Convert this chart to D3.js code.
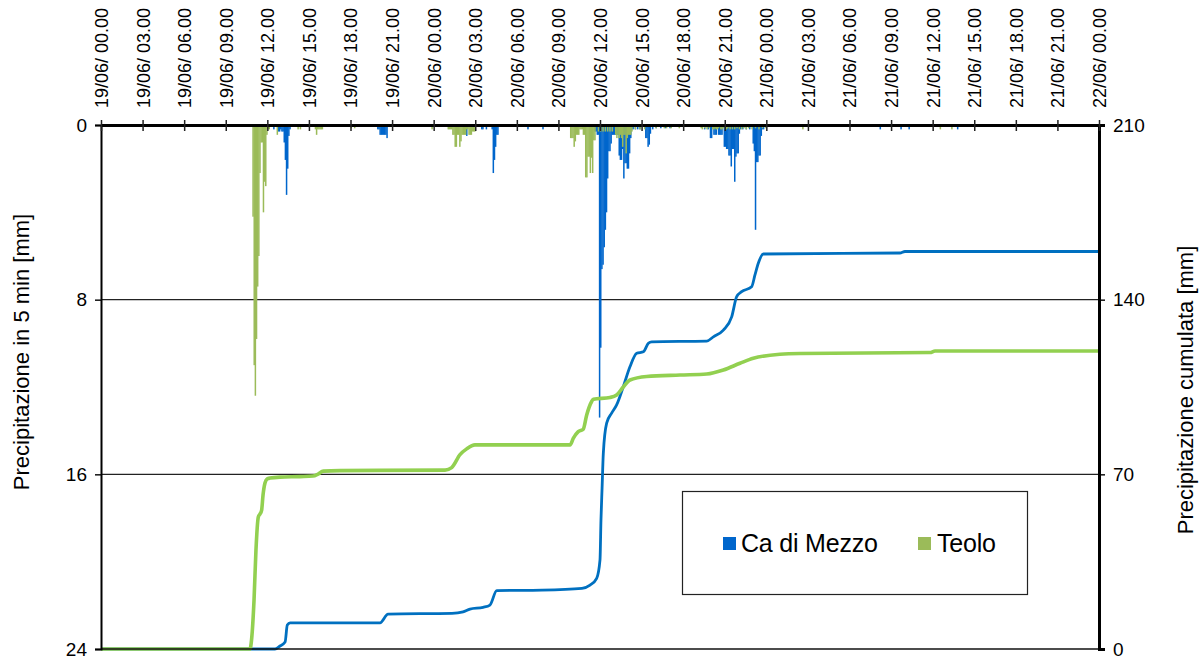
<!DOCTYPE html>
<html>
<head>
<meta charset="utf-8">
<script src="https://cdn.jsdelivr.net/npm/d3@7"></script>
<style>
  html, body { margin: 0; padding: 0; background: #fff; }
  svg { display: block; font-family: "Liberation Sans", Arial, sans-serif; }
</style>
</head>
<body>
<svg id="chart" width="1204" height="662"></svg>
<script>
// ---------- DATA ----------
// Top axis tick labels (every 3 hours from 19/06 00.00)
const tickLabels = [
  "19/06/ 00.00","19/06/ 03.00","19/06/ 06.00","19/06/ 09.00","19/06/ 12.00","19/06/ 15.00","19/06/ 18.00","19/06/ 21.00",
  "20/06/ 00.00","20/06/ 03.00","20/06/ 06.00","20/06/ 09.00","20/06/ 12.00","20/06/ 15.00","20/06/ 18.00","20/06/ 21.00",
  "21/06/ 00.00","21/06/ 03.00","21/06/ 06.00","21/06/ 09.00","21/06/ 12.00","21/06/ 15.00","21/06/ 18.00","21/06/ 21.00",
  "22/06/ 00.00"
];
const seriesNames = ["Ca di Mezzo", "Teolo"];
const leftTicks = [0, 8, 16, 24];
const rightTicks = [0, 70, 140, 210];

// 5-minute precipitation [minute from 19/06 00:00, mm]
const caDiMezzoRain = [
  [745,0.2],[765,0.3],[770,0.3],[775,0.2],[780,0.3],[785,0.3],[790,0.8],[795,1.6],[800,3.2],[805,2.0],[810,0.5],[815,0.2],
  [1195,0.2],[1200,0.2],[1205,0.45],[1210,0.45],[1215,0.45],[1220,0.45],[1225,0.45],[1230,0.45],[1235,0.6],
  [1580,0.5],[1645,0.2],[1650,0.2],[1665,0.2],[1690,0.2],[1695,2.2],[1700,1.6],[1705,1.0],[1710,0.45],[1715,0.45],
  [1845,0.2],[1910,0.2],
  [2135,0.3],[2140,0.3],[2145,0.45],[2150,0.45],[2155,13.4],[2160,10.2],[2165,6.6],[2170,6.4],[2175,5.6],[2180,4.8],[2185,4.0],[2190,2.45],[2195,1.2],[2200,1.2],[2205,0.85],[2210,0.45],[2215,0.45],
  [2220,0.45],[2225,0.45],[2230,0.45],[2235,0.45],[2240,1.4],[2245,1.6],[2250,1.6],[2255,1.1],[2260,2.45],[2265,1.75],[2270,1.75],[2275,2.0],[2280,2.0],[2285,1.3],[2290,0.6],[2295,0.2],[2300,0.2],[2310,0.2],[2320,0.2],[2330,0.2],
  [2355,0.6],[2360,0.6],[2365,1.0],[2370,0.9],[2375,0.4],[2385,0.2],[2400,0.15],[2420,0.15],[2440,0.15],[2460,0.15],
  [2610,0.2],[2625,0.2],[2635,0.6],[2640,0.6],[2650,0.45],[2655,0.45],[2660,0.45],[2670,0.45],[2675,0.45],[2680,0.45],[2685,0.45],[2695,1.0],[2700,1.0],[2705,1.1],[2710,1.1],[2715,1.4],[2720,1.4],[2725,1.9],[2730,1.1],[2735,1.1],[2740,2.6],[2745,1.45],[2750,1.3],[2755,1.3],[2760,0.4],[2765,0.2],[2775,0.2],[2790,0.2],[2805,0.2],
  [2820,0.85],[2825,1.2],[2830,4.8],[2835,1.7],[2840,1.7],[2845,1.4],[2850,1.4],[2855,0.5],[2860,0.2],[2865,0.2],
  [3370,0.2],[3460,0.2],[3495,0.2],[3705,0.2]
];
const teoloRain = [
  [655,4.2],[660,11.0],[665,12.4],[670,9.8],[675,7.4],[680,6.0],[685,2.2],[690,0.8],[695,0.8],[700,4.0],[705,2.6],[710,2.8],[715,0.45],[720,0.2],[725,0.2],
  [760,0.45],[850,0.2],[860,0.2],
  [925,0.2],[930,0.45],[935,0.2],[940,0.2],[945,0.2],[950,0.2],[955,0.2],
  [1080,0.15],[1095,0.15],[1430,0.2],
  [1500,0.2],[1505,0.2],[1510,0.2],[1515,0.2],[1520,0.45],[1525,0.45],[1530,1.0],[1535,1.0],[1540,0.45],[1545,0.45],[1550,1.0],[1555,0.75],[1560,0.45],[1565,0.45],[1570,0.45],[1575,0.45],[1580,0.2],[1585,0.2],[1590,0.45],[1595,0.45],[1600,0.45],[1605,0.3],[1610,0.3],[1615,0.3],
  [2030,0.6],[2035,0.6],[2040,0.6],[2045,1.0],[2050,0.75],[2055,0.45],[2060,0.45],[2065,0.45],[2070,0.2],[2075,0.2],[2080,0.2],[2085,0.45],[2090,0.45],[2095,2.4],[2100,2.4],[2105,1.45],[2110,1.45],[2115,2.2],[2120,1.5],[2125,2.2],[2130,0.7],[2135,0.7],
  [2150,0.3],[2160,0.3],[2170,0.3],[2180,0.3],[2190,0.3],[2200,0.3],[2210,0.3],
  [2225,0.45],[2230,0.6],[2235,0.45],[2240,0.6],[2245,0.45],[2250,0.6],[2255,1.0],[2260,0.45],[2265,0.45],[2270,1.3],[2275,0.6],[2280,0.45],[2285,0.45],[2290,0.45],[2295,0.3],
  [2310,0.2],[2330,0.2],[2350,0.2],[2400,0.15],[2435,0.15],[2445,0.15],[2465,0.15],[2500,0.15],
  [2595,0.15],[2600,0.2],[2610,0.15],[2620,0.2],[2630,0.15],[2645,0.2],[2650,0.2],[2655,0.15],[2660,0.2],[2665,0.2],[2670,0.15],[2680,0.2],[2685,0.2],[2690,0.15],[2700,0.2],[2705,0.2],[2710,0.15],[2720,0.2],[2730,0.2],[2740,0.2],[2750,0.15],[2760,0.2],[2770,0.2],[2780,0.15],[2790,0.2],[2800,0.15],[2815,0.2],[2830,0.15],[2845,0.2],[2860,0.15],[2875,0.15],
  [3035,0.2],[3630,0.2],[3680,0.2]
];

// Cumulative precipitation [hour from 19/06 00:00, mm]
const caDiMezzoCum = [
  [0,0],[12.55,0],[12.91,1.2],[13.28,2.8],[13.44,9.6],[13.64,10.5],[20.13,10.5],[20.71,14.0],[25.32,14.3],[26.12,14.9],
  [26.62,16.0],[27.56,16.7],[28.06,17.6],[28.55,23.4],[31.82,23.6],[34.70,24.3],[35.28,25.6],[35.76,28.3],[36.00,35.7],
  [36.07,51.7],[36.15,64.5],[36.24,78.5],[36.48,90.5],[36.84,94.5],[37.20,97.8],[37.68,105.1],[38.16,113.1],[38.65,118.5],
  [39.13,119.1],[39.49,122.5],[39.73,123.1],[43.70,123.4],[44.18,125.1],[44.90,127.8],[45.50,133.1],[45.86,141.2],
  [46.22,143.2],[46.94,145.2],[47.18,149.9],[47.42,154.6],[47.78,158.3],[57.64,158.7],[58.00,159.3],[72,159.3]
];
const teoloCum = [
  [0,0],[10.75,0],[10.86,3.6],[11.04,19.6],[11.18,39.7],[11.35,52.9],[11.47,54.1],[11.59,55.7],[11.69,61.7],[11.83,66.5],
  [11.98,68.1],[12.19,68.5],[12.91,68.9],[14.36,69.1],[15.29,69.3],[15.66,70.1],[16.04,71.3],[17.24,71.5],[24.82,71.7],
  [25.30,72.7],[25.90,77.9],[26.38,80.2],[26.98,81.8],[33.84,81.8],[34.07,84.4],[34.43,87.1],[34.79,88.1],[35.04,93.8],
  [35.40,99.2],[35.52,100.1],[36.72,100.8],[37.20,101.8],[37.68,105.0],[38.16,107.8],[39.37,109.2],[41.77,109.8],
  [43.70,110.2],[44.90,111.8],[46.10,114.5],[47.06,116.5],[48.99,118.1],[50.43,118.4],[59.81,118.8],[60.17,119.4],[72,119.4]
];

// ---------- CHART ----------
const colors = { barBlue: "#0066CC", barGreen: "#9BBB59", lineBlue: "#0070C0", lineGreen: "#92D050" };
const L = 101, R = 1099, T = 125, B = 649;
const svg = d3.select("#chart");

const x = d3.scaleLinear().domain([0, 72 * 60]).range([L, R]);
const yRain = d3.scaleLinear().domain([0, 24]).range([T, B]);
const yCum = d3.scaleLinear().domain([0, 210]).range([B, T]);

// gridlines
svg.append("g").selectAll("line").data([8, 16]).join("line")
  .attr("x1", L).attr("x2", R)
  .attr("y1", d => yRain(d)).attr("y2", d => yRain(d))
  .attr("stroke", "#222").attr("stroke-width", 1.4);

// bars
function drawBars(data, color) {
  svg.append("g").selectAll("rect").data(data).join("rect")
    .attr("x", d => x(d[0]))
    .attr("width", d => x(d[0] + 5) - x(d[0]) + 0.35)
    .attr("y", T)
    .attr("height", d => yRain(d[1]) - T)
    .attr("fill", color);
}
drawBars(caDiMezzoRain, colors.barBlue);
drawBars(teoloRain, colors.barGreen);

// cumulative lines
const line = d3.line().x(d => x(d[0] * 60)).y(d => yCum(d[1])).curve(d3.curveMonotoneX);
svg.append("path").datum(caDiMezzoCum).attr("d", line)
  .attr("fill", "none").attr("stroke", colors.lineBlue).attr("stroke-width", 2.8).attr("stroke-linejoin", "round");
svg.append("path").datum(teoloCum).attr("d", line)
  .attr("fill", "none").attr("stroke", colors.lineGreen).attr("stroke-width", 3.6).attr("stroke-linejoin", "round");

// bottom line
svg.append("line").attr("x1", L).attr("x2", R).attr("y1", B).attr("y2", B)
  .attr("stroke", "#111").attr("stroke-width", 1.6);

// left axis
const gL = svg.append("g").attr("transform", `translate(${L},0)`)
  .call(d3.axisLeft(yRain).tickValues(leftTicks).tickSize(6).tickPadding(8).tickFormat(d3.format("d")));
gL.select(".domain").attr("stroke", "#000").attr("stroke-width", 2);
gL.selectAll(".tick line").attr("stroke", "#000").attr("stroke-width", 1.4);
gL.selectAll(".tick text").attr("font-size", 19).attr("fill", "#000").attr("font-family", "Liberation Sans, Arial, sans-serif");

// right axis
const gR = svg.append("g").attr("transform", `translate(${R},0)`)
  .call(d3.axisRight(yCum).tickValues(rightTicks).tickSize(6).tickPadding(8).tickFormat(d3.format("d")));
gR.select(".domain").attr("stroke", "#000").attr("stroke-width", 3);
gR.selectAll(".tick line").attr("stroke", "#000").attr("stroke-width", 1.4);
gR.selectAll(".tick text").attr("font-size", 19).attr("fill", "#000").attr("font-family", "Liberation Sans, Arial, sans-serif");

// top axis
const gT = svg.append("g").attr("transform", `translate(0,${T})`)
  .call(d3.axisTop(x).tickValues(d3.range(0, 72 * 60 + 1, 180)).tickSize(0)
    .tickFormat((d, i) => tickLabels[i]));
gT.select(".domain").attr("stroke", "#000").attr("stroke-width", 3);
gT.selectAll(".tick line").attr("y1", -5).attr("y2", 6).attr("stroke", "#222").attr("stroke-width", 1.5);
gT.selectAll(".tick text")
  .attr("font-size", 18).attr("fill", "#000").attr("font-family", "Liberation Sans, Arial, sans-serif")
  .attr("text-anchor", "start")
  .attr("transform", "translate(0,-17) rotate(-90)")
  .attr("x", 0).attr("y", 0).attr("dy", "0.36em");

// axis titles
svg.append("text")
  .attr("transform", "translate(29,352) rotate(-90)")
  .attr("text-anchor", "middle")
  .attr("font-size", 22).attr("fill", "#000")
  .text("Precipitazione in 5 min [mm]");
svg.append("text")
  .attr("transform", "translate(1193,390) rotate(-90)")
  .attr("text-anchor", "middle")
  .attr("font-size", 22).attr("fill", "#000")
  .text("Precipitazione cumulata [mm]");

// legend
const lg = svg.append("g");
lg.append("rect").attr("x", 682.5).attr("y", 491.5).attr("width", 345).attr("height", 103)
  .attr("fill", "#fff").attr("stroke", "#222").attr("stroke-width", 1.2);
const legendItems = [
  { name: seriesNames[0], color: colors.barBlue, sx: 723, tx: 741 },
  { name: seriesNames[1], color: colors.barGreen, sx: 918, tx: 937 }
];
legendItems.forEach(it => {
  lg.append("rect").attr("x", it.sx).attr("y", 537).attr("width", 13).attr("height", 13).attr("fill", it.color);
  lg.append("text").attr("x", it.tx).attr("y", 552).attr("font-size", 25).attr("fill", "#000")
    .attr("letter-spacing", "-0.2").text(it.name);
});
</script>
</body>
</html>
